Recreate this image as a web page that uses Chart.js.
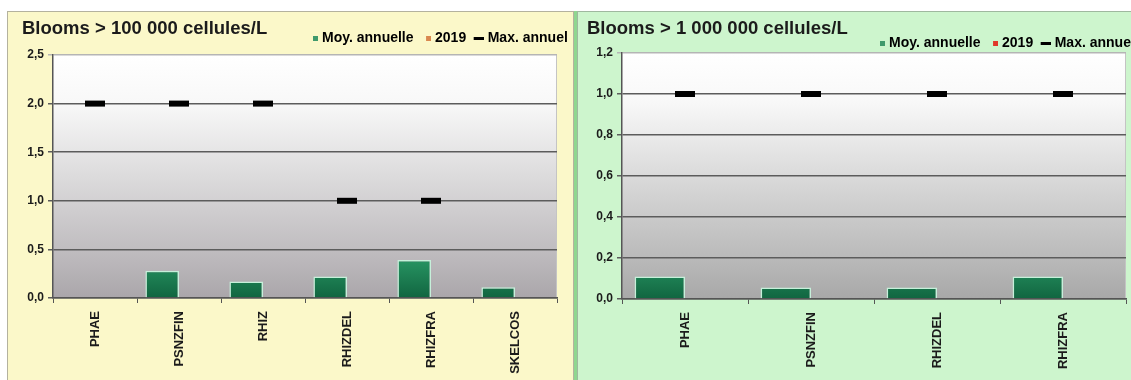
<!DOCTYPE html>
<html lang="fr">
<head>
<meta charset="utf-8">
<title>Blooms phytoplanctoniques</title>
<script src="https://cdn.jsdelivr.net/npm/chart.js@4.4.1/dist/chart.umd.min.js"></script>
<style>
  html, body {
    margin: 0; padding: 0; background: #ffffff;
    width: 1131px; height: 380px; overflow: hidden; position: relative;
    font-family: "Liberation Sans", Arial, Helvetica, sans-serif;
  }
  .panel { position: absolute; top: 11px; height: 369px; box-sizing: border-box; overflow: hidden; }
  #panelA { left: 7px; width: 567px; background: #fbf8c9; border: 1px solid #b4b29e; border-bottom: none; }
  #panelB { left: 577px; width: 600px; background: #cdf5cd; border: 1px solid #9fb89f; border-bottom: none; border-right: none; }
  #divider { position: absolute; left: 574px; top: 11px; width: 3px; height: 369px; background: #8fd68f; }
  .panel canvas { position: absolute; left: 0; top: 0; }
  .title {
    position: absolute; top: 19px; margin: 0;
    font-size: 18.5px; line-height: 1; font-weight: bold; color: #1b1b1b; white-space: nowrap;
  }
</style>
</head>
<body>
<div id="panelA" class="panel"><canvas id="chartA" width="565" height="368"></canvas></div>
<div id="divider"></div>
<div id="panelB" class="panel"><canvas id="chartB" width="572" height="368"></canvas></div>
<div class="title" style="left:22px">Blooms &gt; 100 000 cellules/L</div>
<div class="title" style="left:587px">Blooms &gt; 1 000 000 cellules/L</div>

<script>
// ---- Data -------------------------------------------------------------
const seriesNames = ['Moy. annuelle', '2019', 'Max. annuel'];

// Blooms > 100 000 cells/L
const categoriesA = ['PHAE', 'PSNZFIN', 'RHIZ', 'RHIZDEL', 'RHIZFRA', 'SKELCOS'];
const moyA        = [0, 0.28, 0.17, 0.22, 0.39, 0.11];
const year2019A   = [0, 0, 0, 0, 0, 0];
const maxA        = [2, 2, 2, 1, 1, null];
const yLabelsA    = ['0,0', '0,5', '1,0', '1,5', '2,0', '2,5'];

// Blooms > 1 000 000 cells/L
const categoriesB = ['PHAE', 'PSNZFIN', 'RHIZDEL', 'RHIZFRA'];
const moyB        = [0.11, 0.056, 0.056, 0.11];
const year2019B   = [0, 0, 0, 0];
const maxB        = [1, 1, 1, 1];
const yLabelsB    = ['0,0', '0,2', '0,4', '0,6', '0,8', '1,0', '1,2'];

// ---- Shared look ------------------------------------------------------
Chart.defaults.font.family = '"Liberation Sans", Arial, Helvetica, sans-serif';
Chart.defaults.font.weight = 'bold';
Chart.defaults.color = '#1b1b1b';

function marker(w, h, paint) {
  const c = document.createElement('canvas');
  c.width = w; c.height = h;
  paint(c.getContext('2d'));
  return c;
}
const squareMark = color => marker(12, 5, g => { g.fillStyle = color; g.fillRect(7, 0, 5, 5); });
const dashMark = marker(12, 3, g => { g.fillStyle = '#000'; g.fillRect(2, 0, 10, 3); });

// gradient plot area + light right edge
const plotBackground = {
  id: 'plotBackground',
  beforeDraw(chart, args, opts) {
    const { ctx, chartArea: a } = chart;
    const g = ctx.createLinearGradient(0, a.top, 0, a.bottom);
    opts.stops.forEach(([p, c]) => g.addColorStop(p, c));
    ctx.save();
    ctx.fillStyle = g;
    ctx.fillRect(a.left, a.top, a.right - a.left, a.bottom - a.top);
    ctx.strokeStyle = opts.edge;
    ctx.lineWidth = 1;
    ctx.beginPath();
    ctx.moveTo(a.right - 0.5, a.top);
    ctx.lineTo(a.right - 0.5, a.bottom);
    ctx.stroke();
    ctx.restore();
  }
};

// legend sits on the title row, to the right
const legendPlacer = {
  id: 'legendPlacer',
  beforeLayout(chart, args, opts) {
    const lg = chart.legend;
    if (lg && !lg._fixedHeight) {
      const fit = lg.fit;
      lg.fit = function () { fit.call(this); this.height = opts.height; };
      lg._fixedHeight = true;
    }
  },
  afterLayout(chart, args, opts) {
    const lg = chart.legend;
    if (!lg) return;
    lg.left += opts.dx;
    lg.right += opts.dx;
  }
};

function barFill(context) {
  const { chart } = context;
  const a = chart.chartArea;
  if (!a) return '#1e7f52';
  const g = chart.ctx.createLinearGradient(0, a.bottom - 45, 0, a.bottom);
  g.addColorStop(0, '#2b9c68');
  g.addColorStop(1, '#116540');
  return g;
}

function buildChart(id, cfg) {
  const markers = [squareMark('#3f9a6c'), squareMark(cfg.color2019), dashMark];
  return new Chart(document.getElementById(id), {
    type: 'bar',
    data: {
      labels: cfg.categories,
      datasets: [
        { label: seriesNames[0], data: cfg.moy, backgroundColor: barFill,
          borderColor: '#c6f0da', borderWidth: 1.5, borderSkipped: 'start', order: 2 },
        { label: seriesNames[1], data: cfg.y2019, backgroundColor: cfg.color2019,
          borderWidth: 0, order: 2 },
        { type: 'line', label: seriesNames[2], data: cfg.max, showLine: false,
          pointStyle: 'line', pointRadius: 10, pointBorderWidth: 6,
          pointBorderColor: '#000', borderColor: '#000', order: 1 }
      ]
    },
    options: {
      responsive: false,
      animation: false,
      devicePixelRatio: 1,
      events: [],
      layout: { padding: { top: cfg.padTop, right: cfg.padRight, bottom: 0, left: 0 } },
      datasets: { bar: { categoryPercentage: 0.8, barPercentage: 1.0 } },
      plugins: {
        title: { display: false },
        tooltip: { enabled: false },
        legend: {
          display: true,
          position: 'top',
          align: 'start',
          labels: {
            usePointStyle: true,
            boxWidth: 6,
            boxHeight: 6,
            padding: 8.5,
            color: '#1b1b1b',
            font: { size: 14, weight: 'bold' },
            generateLabels: chart => chart.data.datasets.map((ds, i) => ({
              text: ds.label,
              pointStyle: markers[i],
              fillStyle: 'transparent',
              strokeStyle: 'transparent',
              lineWidth: 0,
              hidden: false,
              datasetIndex: i
            }))
          }
        },
        legendPlacer: { dx: cfg.legendDx, height: cfg.legendHeight },
        plotBackground: { stops: cfg.stops, edge: '#c4c4c4' }
      },
      scales: {
        x: {
          grid: { offset: true, drawOnChartArea: false, tickLength: 5, color: '#555', lineWidth: 1 },
          border: { color: '#555', width: 1.5 },
          ticks: { autoSkip: false, maxRotation: 90, minRotation: 90, padding: 8,
                   color: '#1b1b1b', font: { size: 13, weight: 'bold' } },
          afterFit: s => { s.height = cfg.xHeight; }
        },
        y: {
          min: 0,
          max: cfg.yMax,
          ticks: { stepSize: cfg.yStep, padding: 4, color: '#1b1b1b',
                   font: { size: 12, weight: 'bold' },
                   callback: (v, i) => cfg.yLabels[i] },
          grid: {
            color: c => (c.index === cfg.yLabels.length - 1 ? '#b5b5b5' : '#5c5c5c'),
            lineWidth: 1.5,
            tickLength: 5
          },
          border: { color: '#555', width: 1.5 },
          afterFit: s => { s.width = cfg.yWidth; }
        }
      }
    },
    plugins: [plotBackground, legendPlacer]
  });
}

buildChart('chartA', {
  categories: categoriesA, moy: moyA, y2019: year2019A, max: maxA,
  yLabels: yLabelsA, yMax: 2.5, yStep: 0.5,
  color2019: '#d9884e',
  padTop: 11, padRight: 16, legendHeight: 32, legendDx: 292.5,
  yWidth: 45, xHeight: 82,
  stops: [[0, '#ffffff'], [0.2, '#f8f8f8'], [0.5, '#dcdbdc'], [0.8, '#c0bdc0'], [1, '#aaa6aa']]
});

buildChart('chartB', {
  categories: categoriesB, moy: moyB, y2019: year2019B, max: maxB,
  yLabels: yLabelsB, yMax: 1.2, yStep: 0.2,
  color2019: '#e0382a',
  padTop: 15.5, padRight: 24, legendHeight: 25.5, legendDx: 289.5,
  yWidth: 44, xHeight: 81,
  stops: [[0, '#ffffff'], [0.2, '#f8f8f8'], [0.5, '#dadada'], [0.8, '#bdbdbd'], [1, '#a8a8a8']]
});
</script>
</body>
</html>
